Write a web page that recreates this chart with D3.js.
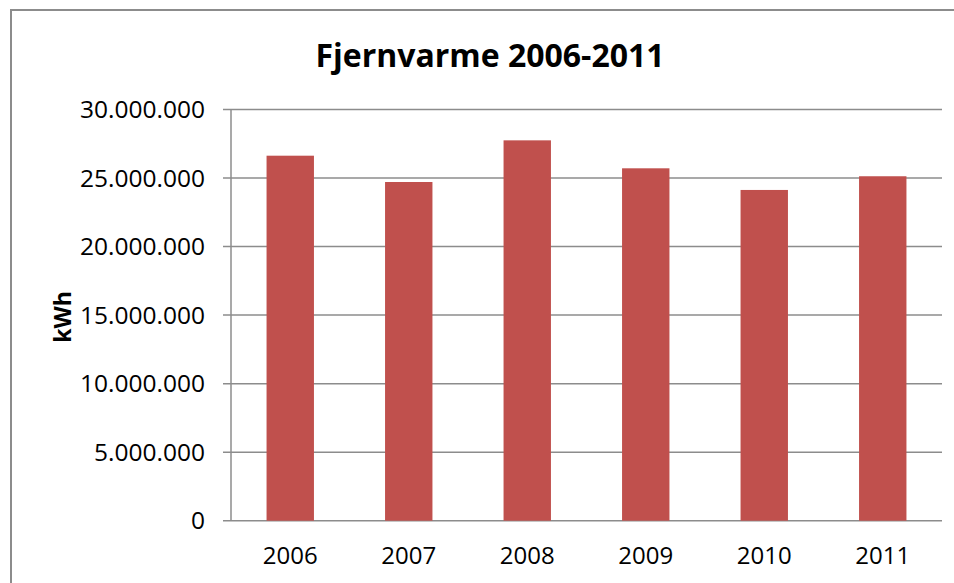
<!DOCTYPE html>
<html>
<head>
    <title>Fjernvarme 2006-2011</title>
    <script src="https://d3js.org/d3.v7.min.js"></script>
    <style>
        body { margin: 0; background: #fff; }
        text { font-family: "Open Sans", "Noto Sans", sans-serif; fill: #000; }
    </style>
</head>
<body>
    <svg width="954" height="583"></svg>

    <script>
    const years = ["2006", "2007", "2008", "2009", "2010", "2011"];
    const kwh = [26630000, 24710000, 27750000, 25710000, 24130000, 25130000];
    const yTicks = [0, 5000000, 10000000, 15000000, 20000000, 25000000, 30000000];

    const svg = d3.select("svg");
    const plotLeft = 231, plotRight = 942, plotTop = 109.5, plotBottom = 520.7;

    // chart frame
    svg.append("rect")
        .attr("x", 11).attr("y", 10)
        .attr("width", 960).attr("height", 600)
        .attr("fill", "none")
        .attr("stroke", "#8c8c8c")
        .attr("stroke-width", 2);

    const x = d3.scaleBand().domain(years).range([plotLeft, plotRight]);
    const y = d3.scaleLinear().domain([0, 30000000]).range([plotBottom, plotTop]);
    const fmt = d => d3.format(",")(d).replace(/,/g, ".");

    // gridlines
    svg.append("g").selectAll("line")
        .data(yTicks)
        .enter().append("line")
        .attr("x1", plotLeft - 8).attr("x2", plotRight)
        .attr("y1", d => y(d)).attr("y2", d => y(d))
        .attr("stroke", "#8c8c8c")
        .attr("stroke-width", 1.5);

    // y axis line
    svg.append("line")
        .attr("x1", plotLeft).attr("x2", plotLeft)
        .attr("y1", plotTop).attr("y2", plotBottom)
        .attr("stroke", "#8c8c8c")
        .attr("stroke-width", 1.5);

    // bars
    const barW = x.bandwidth() * 0.4;
    svg.append("g").selectAll("rect")
        .data(years)
        .enter().append("rect")
        .attr("x", d => x(d) + (x.bandwidth() - barW) / 2)
        .attr("y", (d, i) => y(kwh[i]))
        .attr("width", barW)
        .attr("height", (d, i) => y(0) - y(kwh[i]))
        .attr("fill", "#c0504d");

    // y tick labels
    svg.append("g").selectAll("text")
        .data(yTicks)
        .enter().append("text")
        .attr("x", 205)
        .attr("y", d => y(d))
        .attr("dy", "0.35em")
        .attr("text-anchor", "end")
        .style("font-size", "24.5px")
        .text(fmt);

    // x labels
    svg.append("g").selectAll("text")
        .data(years)
        .enter().append("text")
        .attr("x", d => x(d) + x.bandwidth() / 2)
        .attr("y", 564)
        .attr("text-anchor", "middle")
        .style("font-size", "24px")
        .text(d => d);

    // axis title
    svg.append("text")
        .attr("transform", "translate(71,317) rotate(-90)")
        .attr("text-anchor", "middle")
        .style("font-size", "23px")
        .style("font-weight", "bold")
        .text("kWh");

    // title
    svg.append("text")
        .attr("x", 490)
        .attr("y", 67)
        .attr("text-anchor", "middle")
        .style("font-size", "32px")
        .style("font-weight", "bold")
        .text("Fjernvarme 2006-2011");
    </script>
</body>
</html>
